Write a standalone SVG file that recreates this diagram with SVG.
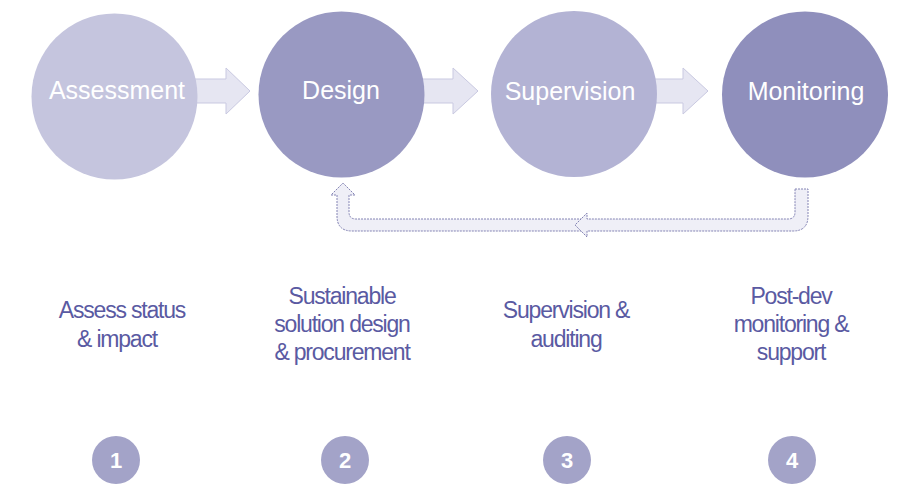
<svg xmlns="http://www.w3.org/2000/svg" width="920" height="496" viewBox="0 0 920 496">
<style>
.arr{fill:#e6e6f2;stroke:#c9c9e1;stroke-width:1}
.fb{fill:#efeff7;stroke:#8484b4;stroke-width:1;stroke-dasharray:2 1}
.ct{font-family:"Liberation Sans",Arial,sans-serif;font-size:25px;fill:#ffffff;text-anchor:middle}
.lt{font-family:"Liberation Sans",Arial,sans-serif;font-size:23px;fill:#5a5aa2;text-anchor:middle;letter-spacing:-1.2px}
.bd{fill:#a3a3c8}
.bn{font-family:"Liberation Sans",Arial,sans-serif;font-size:22px;font-weight:bold;fill:#ffffff;text-anchor:middle}
</style>
<g id="connectors">
<path class="arr" d="M190 79 L226 79 L226 68 L250 91 L226 114 L226 103 L190 103 Z"/>
<path class="arr" d="M418 79 L453 79 L453 68 L478 91 L453 114 L453 103 L418 103 Z"/>
<path class="arr" d="M650 79 L683 79 L683 68 L708 91 L683 114 L683 103 L650 103 Z"/>
<path class="fb" d="M585 219 L356 219 Q349 219 349 212 L349 195 L355 195 L343 183 L331 195 L337 195 L337 216 Q337 231 352 231 L585 231 Z"/>
<path class="fb" d="M795 189 L808 189 L808 216 Q808 231 793 231 L587 231 L587 237 L575 225 L587 213 L587 219 L788 219 Q795 219 795 212 Z"/>
</g>
<g id="node-assessment">
<circle cx="114.5" cy="96.5" r="83" fill="#c5c5de"/>
<text class="ct" x="117" y="99">Assessment</text>
</g>
<g id="node-design">
<circle cx="341.5" cy="94.5" r="83" fill="#9999c2"/>
<text class="ct" x="341" y="99">Design</text>
</g>
<g id="node-supervision">
<circle cx="574" cy="94" r="83" fill="#b3b3d4"/>
<text class="ct" x="570" y="100">Supervision</text>
</g>
<g id="node-monitoring">
<circle cx="805" cy="94.5" r="83" fill="#8f8fbc"/>
<text class="ct" x="806" y="100">Monitoring</text>
</g>
<g id="label-1">
<text class="lt" x="122" y="318">Assess status</text>
<text class="lt" x="117" y="347">&amp; impact</text>
</g>
<g id="label-2">
<text class="lt" x="342" y="304">Sustainable</text>
<text class="lt" x="342" y="332">solution design</text>
<text class="lt" x="342" y="360">&amp; procurement</text>
</g>
<g id="label-3">
<text class="lt" x="566" y="318">Supervision &amp;</text>
<text class="lt" x="566" y="347">auditing</text>
</g>
<g id="label-4">
<text class="lt" x="791" y="304">Post-dev</text>
<text class="lt" x="791" y="332">monitoring &amp;</text>
<text class="lt" x="791" y="360">support</text>
</g>
<g id="badge-1"><circle class="bd" cx="116" cy="460" r="24"/><text class="bn" x="116" y="468">1</text></g>
<g id="badge-2"><circle class="bd" cx="345" cy="460" r="24"/><text class="bn" x="345" y="468">2</text></g>
<g id="badge-3"><circle class="bd" cx="567" cy="460" r="24"/><text class="bn" x="567" y="468">3</text></g>
<g id="badge-4"><circle class="bd" cx="792" cy="460" r="24"/><text class="bn" x="792" y="468">4</text></g>
</svg>
